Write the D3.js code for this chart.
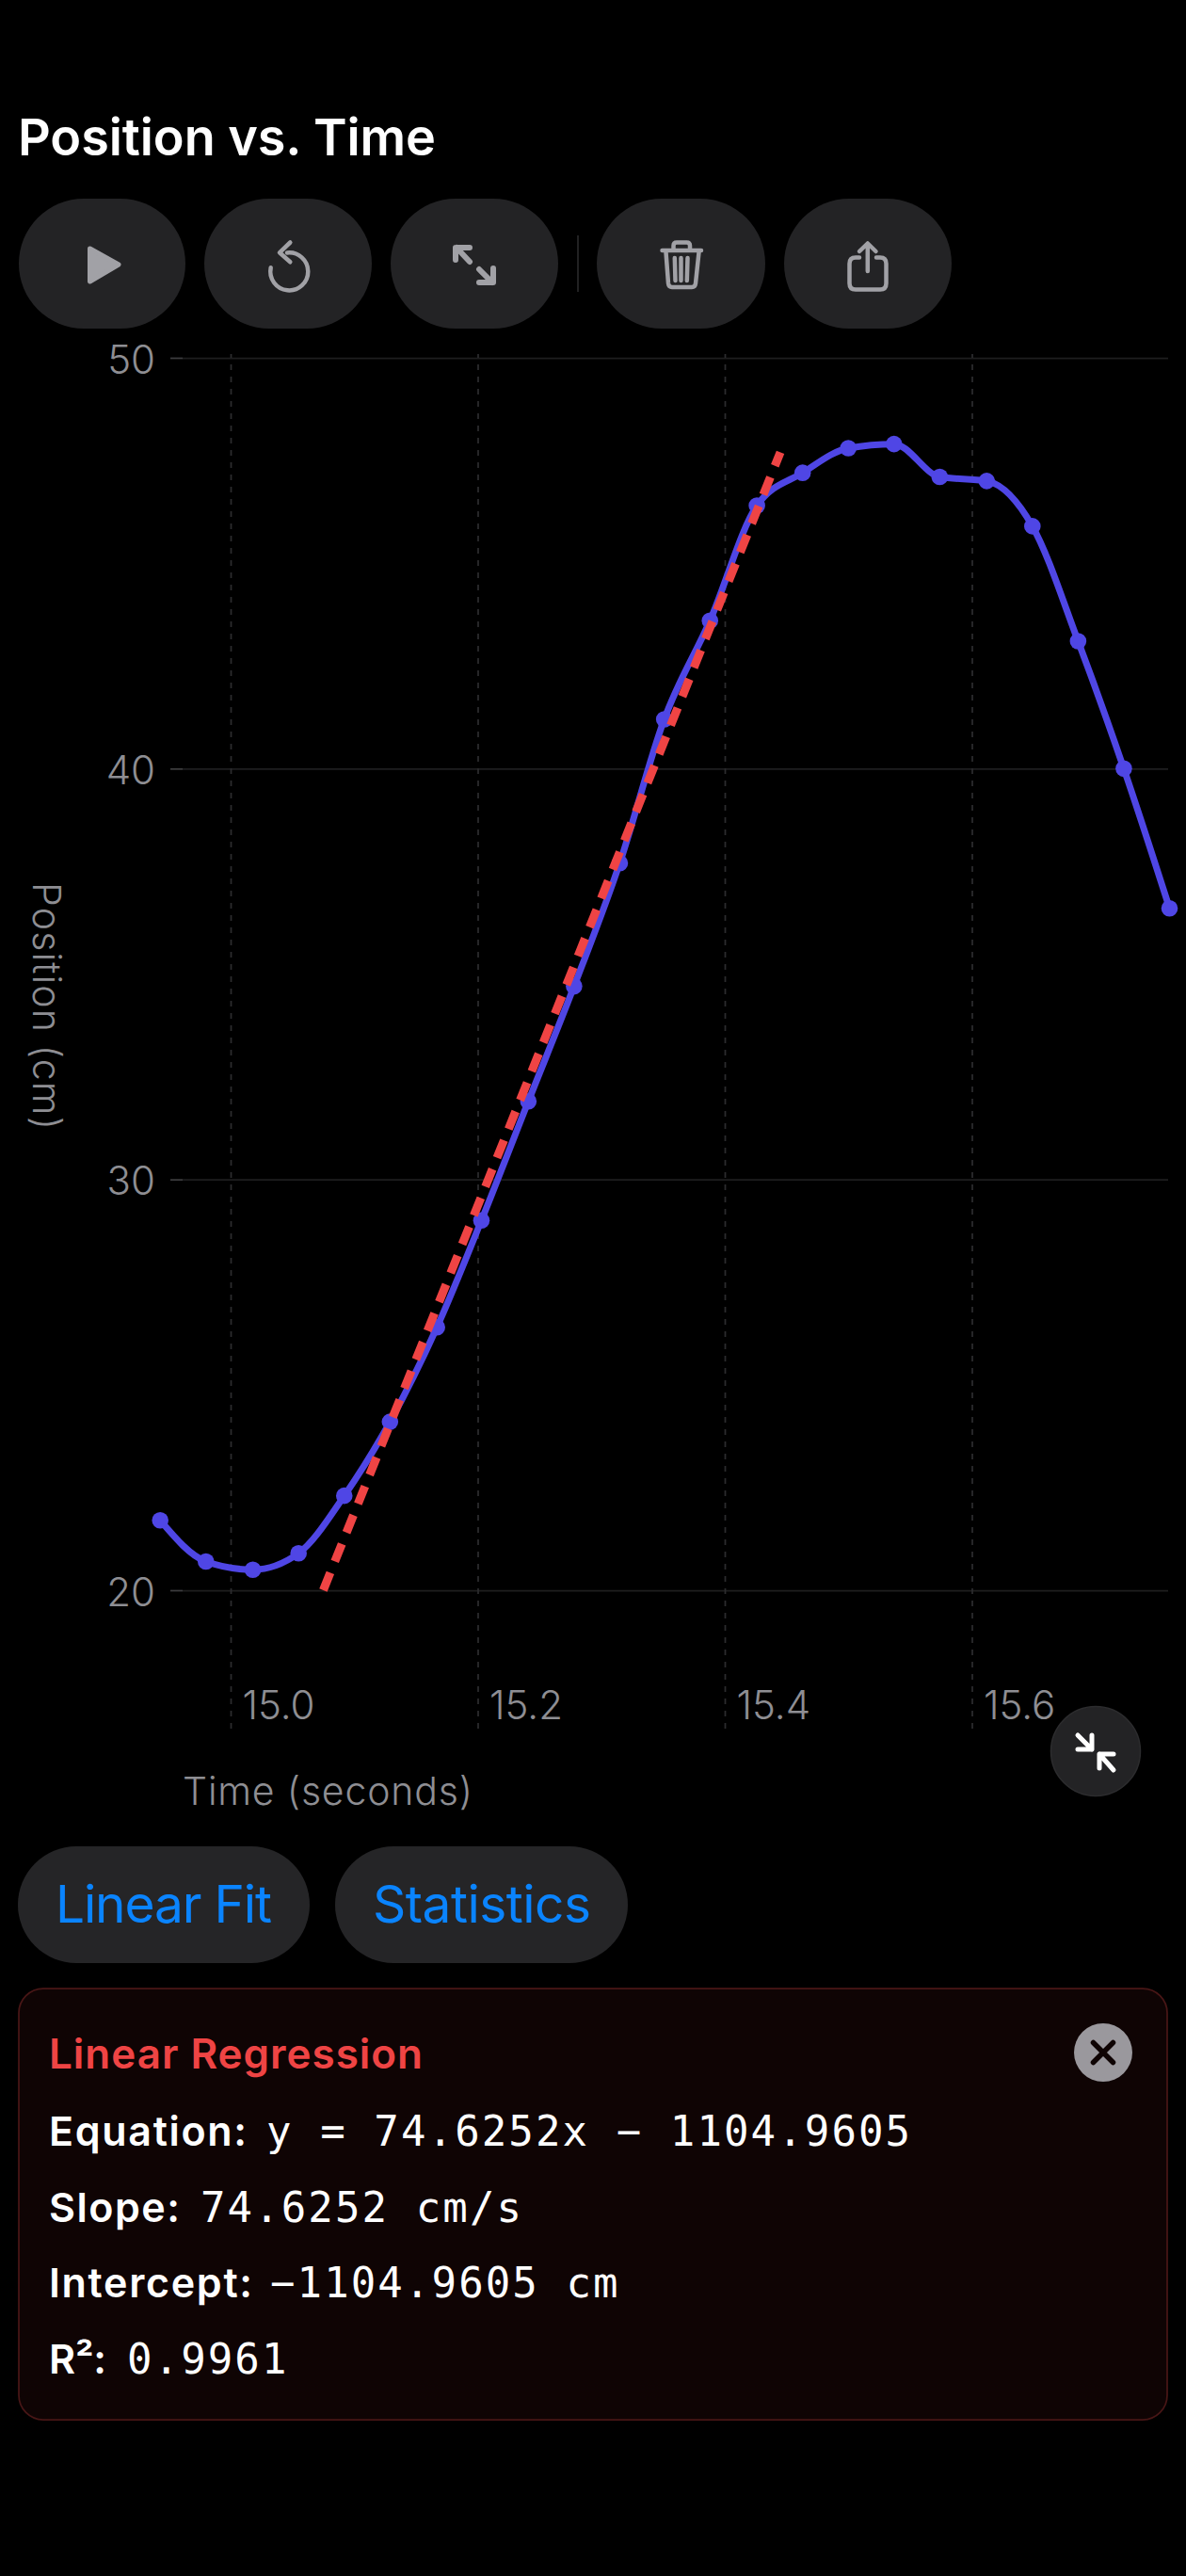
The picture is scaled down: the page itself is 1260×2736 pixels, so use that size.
<!DOCTYPE html>
<html>
<head>
<meta charset="utf-8">
<title>Position vs. Time</title>
<script src="https://cdn.jsdelivr.net/npm/d3@7"></script>
<style>
    html, body { margin: 0; padding: 0; background: #000; }
    svg { display: block; }
    text { font-family: Inter, "Noto Sans", sans-serif; }
    .mono { font-family: "DejaVu Sans Mono", monospace; }
</style>
</head>
<body>
<div id="wrapper"></div>
<script>
// values
const times = [14.943, 14.980, 15.018, 15.055, 15.092, 15.129, 15.167, 15.203,
    15.241, 15.278, 15.315, 15.351, 15.388, 15.426, 15.463, 15.500, 15.537,
    15.574, 15.612, 15.649, 15.686, 15.723, 15.760];
const positions = [21.7, 20.7, 20.5, 20.9, 22.3, 24.1, 26.4, 29.0, 31.9, 34.7,
    37.7, 41.2, 43.6, 46.4, 47.2, 47.8, 47.9, 47.1, 47.0, 45.9, 43.1, 40.0, 36.6];
const fitTimes = [15.075, 15.445];
const fitPositions = [20.0, 47.7];
const xTicks = [15.0, 15.2, 15.4, 15.6];
const yTicks = [20, 30, 40, 50];

const dimensions = {
    width: 1260,
    height: 2736,
    plotLeft: 194,
    plotRight: 1241,
    plotTop: 376,
    plotBottom: 1836
};

const svg = d3.select('#wrapper')
    .append('svg')
        .attr('width', dimensions.width)
        .attr('height', dimensions.height);

const x = d3.scaleLinear().domain([15.0, 15.6]).range([245, 1032.5]);
const y = d3.scaleLinear().domain([20, 50]).range([1689, 380]);

const GREY = '#8e8e93';
const ICON = '#a1a1a6';
const BUTTON = '#232325';

// title
svg.append('text')
    .attr('x', 19).attr('y', 165)
    .attr('font-size', 54).attr('font-weight', 600)
    .attr('fill', '#fff')
    .attr('textLength', 444)
    .text('Position vs. Time');

// toolbar
const toolbarButtons = [[20, 177], [217, 178], [415, 178], [634, 179], [833, 178]];
svg.append('g').selectAll('rect')
    .data(toolbarButtons)
    .join('rect')
        .attr('x', d => d[0]).attr('y', 211)
        .attr('width', d => d[1]).attr('height', 138)
        .attr('rx', 69)
        .attr('fill', BUTTON);

svg.append('line')
    .attr('x1', 614).attr('x2', 614).attr('y1', 250).attr('y2', 310)
    .attr('stroke', '#2c2c2e').attr('stroke-width', 1.5);

const iconPaths = [
    'M287.7 284.3A20 20 0 1 0 305 268.5',
    'M308.3 257.5L297 268.3L308.3 278.3',
    'M485 263L499 278M509 286L523 300M484 276V263H499M509 300H524V285',
    'M703.5 266H745M715.5 265V261Q715.5 257.5 719 257.5H729.5Q733 257.5 733 261V265M707.5 268L710 301Q710.5 305 714 305H735Q738.5 305 739 301L742.5 268M716.8 274L717.5 298M723.5 274V298M730.5 274L729.8 298',
    'M913 273.5H909Q902.5 273.5 902.5 280V301Q902.5 307.5 909 307.5H935Q941.5 307.5 941.5 301V280Q941.5 273.5 935 273.5H931M921.8 288V259M913 267L921.8 258.5L930.5 267'
];
svg.append('g').selectAll('path')
    .data(iconPaths)
    .join('path')
        .attr('d', d => d)
        .attr('fill', 'none')
        .attr('stroke', ICON)
        .attr('stroke-width', (d, i) => i === 2 ? 6 : 4.5)
        .attr('stroke-linecap', 'round')
        .attr('stroke-linejoin', 'round');

svg.append('path')
    .attr('d', 'M95.5 264L126 281L95.5 299Z')
    .attr('fill', ICON)
    .attr('stroke', ICON)
    .attr('stroke-width', 5)
    .attr('stroke-linejoin', 'round');

// axes
const gridAxis = d3.axisRight(y)
    .tickValues(yTicks)
    .tickSize(dimensions.plotRight - dimensions.plotLeft)
    .tickFormat('');
const gridG = svg.append('g')
    .attr('transform', `translate(${dimensions.plotLeft},0)`)
    .call(gridAxis);
gridG.select('.domain').remove();
gridG.selectAll('.tick line').attr('stroke', '#1e1e1f').attr('stroke-width', 1.75);

const yAxis = d3.axisLeft(y)
    .tickValues(yTicks)
    .tickSize(13)
    .tickSizeOuter(0);
const yG = svg.append('g')
    .attr('transform', `translate(${dimensions.plotLeft},0)`)
    .call(yAxis);
yG.select('.domain').remove();
yG.selectAll('.tick line').attr('stroke', '#3d3d3f').attr('stroke-width', 1.75);
yG.selectAll('.tick text')
    .attr('x', -29).attr('y', 16).attr('dy', 0)
    .attr('text-anchor', 'end')
    .attr('font-family', 'Inter')
    .attr('font-size', 42)
    .attr('font-weight', 350)
    .attr('fill', GREY);

const xAxis = d3.axisBottom(x)
    .tickValues(xTicks)
    .tickSize(-(dimensions.plotBottom - dimensions.plotTop))
    .tickFormat(d3.format('.1f'));
const xG = svg.append('g')
    .attr('transform', `translate(0,${dimensions.plotBottom})`)
    .call(xAxis);
xG.select('.domain').remove();
xG.selectAll('.tick line')
    .attr('stroke', '#2c2c2e')
    .attr('stroke-width', 1.75)
    .attr('stroke-dasharray', '6,7');
xG.selectAll('.tick text')
    .attr('x', 12).attr('y', -10).attr('dy', 0)
    .attr('text-anchor', 'start')
    .attr('font-family', 'Inter')
    .attr('font-size', 42)
    .attr('font-weight', 350)
    .attr('fill', GREY);

svg.append('text')
    .attr('x', 194).attr('y', 1917)
    .attr('font-size', 41).attr('font-weight', 350).attr('fill', GREY)
    .attr('textLength', 308)
    .text('Time (seconds)');

svg.append('text')
    .attr('transform', 'translate(35,937) rotate(90)')
    .attr('font-size', 41).attr('font-weight', 350).attr('fill', GREY)
    .attr('textLength', 263)
    .text('Position (cm)');

// data
const line = d3.line()
    .x(i => x(times[i]))
    .y(i => y(positions[i]))
    .curve(d3.curveMonotoneX);

svg.append('path')
    .attr('d', line(d3.range(times.length)))
    .attr('fill', 'none')
    .attr('stroke', '#4f46e5')
    .attr('stroke-width', 7);

svg.append('g').selectAll('circle')
    .data(d3.range(times.length))
    .join('circle')
        .attr('cx', i => x(times[i]))
        .attr('cy', i => y(positions[i]))
        .attr('r', 8.8)
        .attr('fill', '#4f46e5');

const fitLine = d3.line()
    .x(i => x(fitTimes[i]))
    .y(i => y(fitPositions[i]));

svg.append('path')
    .attr('d', fitLine(d3.range(fitTimes.length)))
    .attr('fill', 'none')
    .attr('stroke', '#ef4444')
    .attr('stroke-width', 9)
    .attr('stroke-dasharray', '20,13');

// collapse button
svg.append('circle')
    .attr('cx', 1164).attr('cy', 1860).attr('r', 47.5)
    .attr('fill', '#232325')
    .attr('stroke', '#2c2c2e').attr('stroke-width', 1.5);
svg.append('path')
    .attr('d', 'M1145 1843L1160 1858M1160 1843V1858H1145M1168 1863L1183 1880M1168 1878V1863H1183')
    .attr('fill', 'none')
    .attr('stroke', '#fff')
    .attr('stroke-width', 5)
    .attr('stroke-linecap', 'round')
    .attr('stroke-linejoin', 'round');

// pills
const pills = [
    { label: 'Linear Fit', left: 19, right: 329, textX: 59, textW: 230 },
    { label: 'Statistics', left: 356, right: 667, textX: 396, textW: 232 }
];
svg.append('g').selectAll('rect')
    .data(pills)
    .join('rect')
        .attr('x', d => d.left).attr('y', 1961)
        .attr('width', d => d.right - d.left).attr('height', 124)
        .attr('rx', 62)
        .attr('fill', '#252527');
svg.append('g').selectAll('text')
    .data(pills)
    .join('text')
        .attr('x', d => d.textX).attr('y', 2042)
        .attr('font-size', 55)
        .attr('fill', '#0a84ff')
        .attr('textLength', d => d.textW)
        .text(d => d.label);

// regression card
svg.append('rect')
    .attr('x', 20).attr('y', 2112)
    .attr('width', 1220).attr('height', 458)
    .attr('rx', 26)
    .attr('fill', '#0f0404')
    .attr('stroke', '#481616').attr('stroke-width', 1.75);

svg.append('text')
    .attr('x', 52).attr('y', 2197)
    .attr('font-size', 44).attr('font-weight', 600)
    .attr('fill', '#ef4444')
    .attr('textLength', 397)
    .text('Linear Regression');

svg.append('circle')
    .attr('cx', 1172).attr('cy', 2180).attr('r', 31)
    .attr('fill', '#9a989d');
svg.append('path')
    .attr('d', 'M1161.5 2169.5L1182.5 2190.5M1182.5 2169.5L1161.5 2190.5')
    .attr('stroke', '#0f0404').attr('stroke-width', 5.5)
    .attr('stroke-linecap', 'round');

const rows = [
    { label: 'Equation:', labelW: 210, value: 'y = 74.6252x \u2212 1104.9605', valueX: 283, baseline: 2279 },
    { label: 'Slope:', labelW: 139, value: '74.6252 cm/s', valueX: 213, baseline: 2360 },
    { label: 'Intercept:', labelW: 216, value: '\u22121104.9605 cm', valueX: 287, baseline: 2440 },
    { label: 'R\u00b2:', labelW: 61, value: '0.9961', valueX: 135, baseline: 2521 }
];
const rowG = svg.append('g');
rowG.selectAll('text.label')
    .data(rows)
    .join('text')
        .attr('class', 'label')
        .attr('x', 52).attr('y', d => d.baseline)
        .attr('font-size', 43).attr('font-weight', 600)
        .attr('fill', '#fff')
        .attr('textLength', d => d.labelW)
        .text(d => d.label);
rowG.selectAll('text.mono')
    .data(rows)
    .join('text')
        .attr('class', 'mono')
        .attr('x', d => d.valueX).attr('y', d => d.baseline)
        .attr('font-size', 44)
        .attr('letter-spacing', 2.1)
        .attr('fill', '#fff')
        .text(d => d.value);
</script>
</body>
</html>
